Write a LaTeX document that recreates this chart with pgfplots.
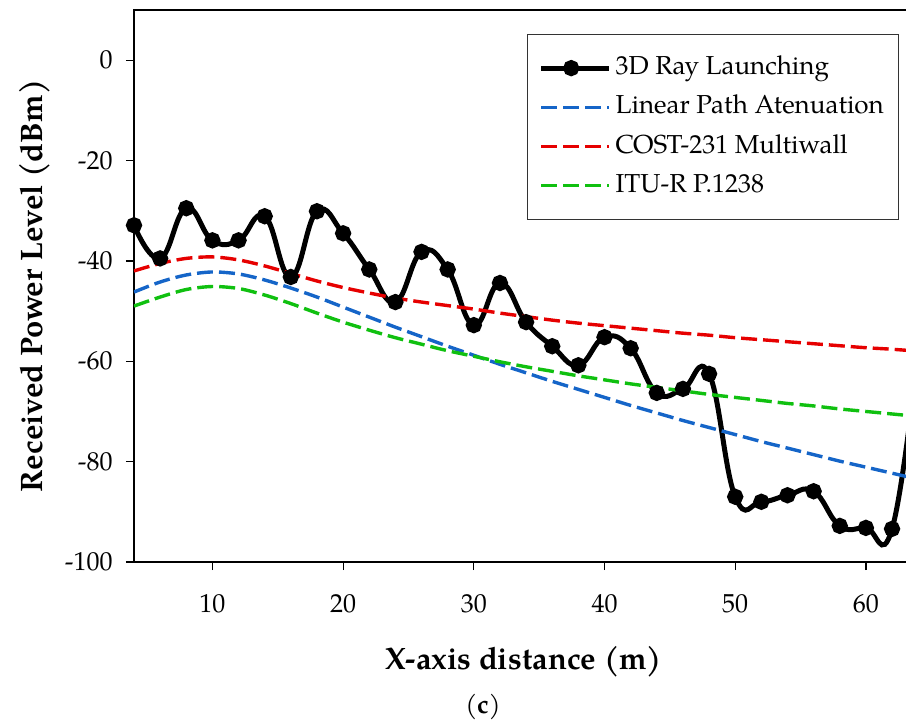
\documentclass[border=0pt]{standalone}
\usepackage{pgfplots}
\pgfplotsset{compat=1.18}
\usepackage{fontspec}
\setmainfont{TeX Gyre Pagella}
\definecolor{cBlue}{HTML}{1565C8}
\definecolor{cRed}{HTML}{E60000}
\definecolor{cGreen}{HTML}{10C010}

\begin{document}
\begin{tikzpicture}
\begin{axis}[
    scale only axis,
    width=390pt, height=276pt,
    xmin=4, xmax=63.68,
    ymin=-100, ymax=10,
    xtick={10,20,30,40,50,60},
    xticklabels={10,20,30,40,50,60},
    ytick={-100,-80,-60,-40,-20,0},
    yticklabels={-100,-80,-60,-40,-20,0},
    tick align=outside,
    major tick length=4pt,
    xtick pos=bottom, ytick pos=left,
    tick style={black, line width=0.6pt},
    axis line style={line width=0.7pt},
    tick label style={font=\fontsize{13}{15}\selectfont},
    xticklabel style={anchor=north, inner sep=0pt, yshift=-12pt},
    yticklabel style={anchor=east, inner sep=0pt, xshift=-6.5pt},
    xlabel={\textbf{X-axis distance (m)}},
    ylabel={\textbf{Received Power Level (dBm)}},
    label style={font=\fontsize{15.5}{18}\selectfont},
    xlabel style={at={(axis description cs:0.5,-0.1812)}, anchor=center},
    ylabel style={at={(axis description cs:-0.127,0.5)}, anchor=center},
    clip=true,
    legend cell align=left,
    legend style={
        at={(0.504,0.9565)}, anchor=north west,
        draw=black!80, line width=0.6pt,
        font=\fontsize{13}{15}\selectfont,
        inner xsep=5.5pt, inner ysep=8.5pt,
        row sep=3.1pt,
        nodes={text height=9.5pt, text depth=3pt, inner sep=2pt},
    },
    legend image code/.code={
        \path (0pt,0pt) -- (34pt,0pt);
        \draw[mark repeat=2, mark phase=2, #1] plot coordinates {(0pt,0pt) (15pt,0pt) (30pt,0pt)};
    },
]
% 3D Ray Launching
\addplot[black, line width=2.5pt, smooth, tension=0.75, mark=*, mark size=2.8pt] coordinates {
(4,-32.9) (6,-39.5) (8,-29.5) (10,-35.9) (12,-35.9) (14,-31.1) (16,-43.2) (18,-30.1)
(20,-34.5) (22,-41.7) (24,-48.2) (26,-38.2) (28,-41.7) (30,-52.8) (32,-44.4) (34,-52.2)
(36,-57.0) (38,-60.8) (40,-55.2) (42,-57.4) (44,-66.3) (46,-65.5) (48,-62.5) (50,-87.0)
(52,-88.0) (54,-86.7) (56,-85.9) (58,-92.8) (60,-93.2) (62,-93.4) (64,-58.0)
};
\addlegendentry{3D Ray Launching}
% Linear Path Atenuation
\addplot[cBlue, line width=1.7pt, smooth, dash pattern=on 8pt off 3pt] coordinates {
(4,-46.2) (6,-44.2) (8,-42.8) (10,-42.2) (12,-42.6) (14,-43.8) (16,-45.4) (18,-47.2)
(20,-49.2) (22,-51.2) (24,-53.2) (26,-55.1) (28,-57.0) (30,-58.8) (32,-60.6) (34,-62.3)
(36,-64.0) (38,-65.6) (40,-67.2) (42,-68.8) (44,-70.3) (46,-71.8) (48,-73.2) (50,-74.6)
(52,-76.0) (54,-77.3) (56,-78.6) (58,-79.9) (60,-81.1) (62,-82.3) (64,-83.5)
};
\addlegendentry{Linear Path Atenuation}
% COST-231 Multiwall
\addplot[cRed, line width=1.7pt, smooth, dash pattern=on 8pt off 3pt] coordinates {
(4,-42.0) (6,-40.5) (8,-39.5) (10,-39.2) (12,-39.8) (14,-41.0) (16,-42.5) (18,-44.0)
(20,-45.3) (22,-46.4) (24,-47.4) (26,-48.2) (28,-48.9) (30,-49.6) (32,-50.4) (34,-51.1)
(36,-51.8) (38,-52.4) (40,-52.9) (42,-53.4) (44,-53.9) (46,-54.4) (48,-54.8) (50,-55.3)
(52,-55.7) (54,-56.1) (56,-56.5) (58,-56.9) (60,-57.3) (62,-57.6) (64,-58.0)
};
\addlegendentry{COST-231 Multiwall}
% ITU-R P.1238
\addplot[cGreen, line width=1.7pt, smooth, dash pattern=on 8pt off 3pt] coordinates {
(4,-49.0) (6,-47.2) (8,-45.7) (10,-45.1) (12,-45.5) (14,-46.8) (16,-48.5) (18,-50.4)
(20,-52.2) (22,-53.8) (24,-55.3) (26,-56.6) (28,-57.9) (30,-59.0) (32,-60.1) (34,-61.1)
(36,-62.0) (38,-62.9) (40,-63.7) (42,-64.5) (44,-65.2) (46,-65.9) (48,-66.6) (50,-67.2)
(52,-67.8) (54,-68.4) (56,-68.9) (58,-69.5) (60,-70.0) (62,-70.5) (64,-71.0)
};
\addlegendentry{ITU-R P.1238}
\end{axis}
\node[font=\fontsize{13}{15}\selectfont] at (174.5pt,-72.5pt) {(\textbf{c})};
\pgfresetboundingbox
\path[use as bounding box] (-67pt,-79pt) rectangle (386pt,281pt);
\end{tikzpicture}
\end{document}
